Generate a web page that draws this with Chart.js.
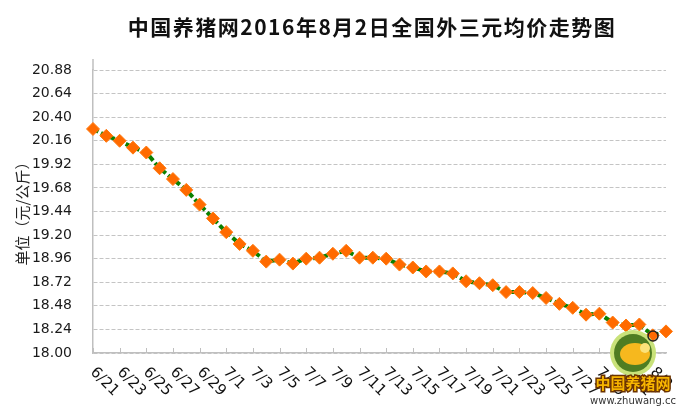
<!DOCTYPE html>
<html>
<head>
<meta charset="utf-8">
<script src="https://cdn.jsdelivr.net/npm/chart.js@4"></script>
<style>
  body { margin: 0; background: #fff; }
</style>
</head>
<body>
<canvas id="chart" width="692" height="410"></canvas>
<script>
// dates (one point per day), only every other one gets a label
const dates = [
  '6/21', '6/22', '6/23', '6/24', '6/25', '6/26', '6/27', '6/28', '6/29', '6/30',
  '7/1', '7/2', '7/3', '7/4', '7/5', '7/6', '7/7', '7/8', '7/9', '7/10',
  '7/11', '7/12', '7/13', '7/14', '7/15', '7/16', '7/17', '7/18', '7/19', '7/20',
  '7/21', '7/22', '7/23', '7/24', '7/25', '7/26', '7/27', '7/28', '7/29', '7/30',
  '7/31', '8/1', '8/2', '8/3'
];

// 外三元均价 (元/公斤)
const prices = [
  20.28, 20.21, 20.16, 20.09, 20.04, 19.88, 19.77, 19.66, 19.51, 19.37,
  19.23, 19.11, 19.04, 18.93, 18.95, 18.91, 18.96, 18.97, 19.01, 19.04,
  18.97, 18.97, 18.96, 18.90, 18.87, 18.83, 18.83, 18.81, 18.73, 18.71,
  18.69, 18.62, 18.62, 18.61, 18.56, 18.50, 18.46, 18.39, 18.40, 18.31,
  18.28, 18.29, 18.18, 18.22
];

const yMin = 18.00;
const yMax = 20.88;
const yStep = 0.24;

const titleText = '中国养猪网2016年8月2日全国外三元均价走势图';
const yTitle = '单位（元/公斤）';

const extras = {
  id: 'extras',
  afterDraw(chart) {
    const ctx = chart.ctx;
    const x = chart.scales.x;
    const area = chart.chartArea;

    // title
    ctx.save();
    ctx.fillStyle = '#111';
    ctx.font = 'bold 21px "Noto Sans CJK SC"';
    ctx.letterSpacing = '1.5px';
    ctx.textAlign = 'center';
    ctx.textBaseline = 'middle';
    ctx.fillText(titleText, 372, 27);
    ctx.restore();

    // y axis title
    ctx.save();
    ctx.fillStyle = '#222';
    ctx.font = '15px "Noto Sans CJK SC"';
    ctx.translate(22, 210);
    ctx.rotate(-Math.PI / 2);
    ctx.textAlign = 'center';
    ctx.textBaseline = 'middle';
    ctx.fillText(yTitle, 0, 0);
    ctx.restore();

    // y axis line sticks out a bit above the top grid line
    ctx.save();
    ctx.strokeStyle = '#bfbfbf';
    ctx.lineWidth = 1.5;
    ctx.beginPath();
    ctx.moveTo(area.left, area.top);
    ctx.lineTo(area.left, area.top - 11);
    ctx.stroke();
    ctx.restore();

    // x ticks (inside) and slanted labels
    ctx.save();
    ctx.strokeStyle = '#bfbfbf';
    ctx.lineWidth = 1;
    ctx.fillStyle = '#111';
    ctx.font = '15px "DejaVu Sans"';
    dates.forEach((d, i) => {
      if (i % 2) return;
      const px = Math.round(x.getPixelForValue(i)) + 0.5;
      ctx.beginPath();
      ctx.moveTo(px, area.bottom);
      ctx.lineTo(px, area.bottom - 5);
      ctx.stroke();
      ctx.save();
      ctx.translate(px - 1, area.bottom + 17);
      ctx.rotate(Math.PI / 4);
      ctx.textAlign = 'left';
      ctx.textBaseline = 'middle';
      ctx.fillText(d, 0, 0);
      ctx.restore();
    });
    ctx.restore();

    // watermark logo
    ctx.save();
    ctx.beginPath();
    ctx.arc(633, 353, 23, 0, Math.PI * 2);
    ctx.fillStyle = '#c9e27a';
    ctx.fill();
    ctx.beginPath();
    ctx.arc(633, 353, 19, 0, Math.PI * 2);
    ctx.fillStyle = '#4f7d22';
    ctx.fill();
    ctx.beginPath();
    ctx.ellipse(635, 354, 15, 11, 0, 0, Math.PI * 2);
    ctx.fillStyle = '#f6b81e';
    ctx.fill();
    ctx.beginPath();
    ctx.arc(645, 348, 5, 0, Math.PI * 2);
    ctx.fillStyle = '#fbe27a';
    ctx.fill();
    ctx.beginPath();
    ctx.arc(653, 336, 5, 0, Math.PI * 2);
    ctx.strokeStyle = '#222';
    ctx.lineWidth = 1.5;
    ctx.stroke();
    ctx.font = 'bold 15px "Noto Sans CJK SC"';
    ctx.textAlign = 'center';
    ctx.textBaseline = 'middle';
    ctx.lineWidth = 3;
    ctx.strokeStyle = '#6b3300';
    ctx.strokeText('中国养猪网', 633, 383);
    ctx.fillStyle = '#f7b500';
    ctx.fillText('中国养猪网', 633, 383);
    ctx.font = '10px "DejaVu Sans"';
    ctx.fillStyle = '#333';
    ctx.fillText('www.zhuwang.cc', 633, 401);
    ctx.restore();
  }
};

new Chart(document.getElementById('chart'), {
  type: 'line',
  data: {
    labels: dates,
    datasets: [{
      data: prices,
      borderColor: '#0a8000',
      borderWidth: 4,
      borderDash: [6, 3],
      backgroundColor: '#ff6a00',
      pointStyle: 'rectRot',
      pointRadius: 6.5,
      pointBackgroundColor: '#ff6a00',
      pointBorderColor: '#ff7a10',
      pointBorderWidth: 1,
      tension: 0,
      clip: false
    }]
  },
  options: {
    responsive: false,
    animation: false,
    layout: { padding: { top: 70, right: 26, bottom: 57, left: 0 } },
    plugins: {
      legend: { display: false },
      title: { display: false },
      tooltip: { enabled: false }
    },
    scales: {
      x: {
        type: 'category',
        offset: false,
        grid: { display: false, drawTicks: false },
        border: { display: true, color: '#bfbfbf', width: 1.5 },
        ticks: { display: false }
      },
      y: {
        min: yMin,
        max: yMax,
        afterFit: s => { s.width = 93; },
        grid: { color: '#c4c4c4', drawTicks: false, lineWidth: 1 },
        border: { display: true, color: '#bfbfbf', width: 1.5, dash: [4, 2] },
        ticks: {
          stepSize: yStep,
          padding: 21,
          color: '#1a1a1a',
          font: { family: 'DejaVu Sans', size: 14 },
          callback: v => Number(v).toFixed(2)
        }
      }
    }
  },
  plugins: [extras]
});
</script>
</body>
</html>
